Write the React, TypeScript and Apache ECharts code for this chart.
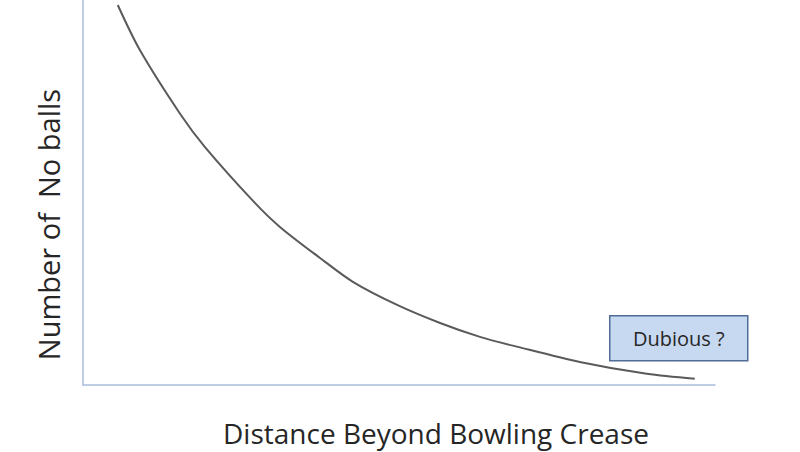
import * as echarts from "echarts";
import { useEffect, useRef } from "react";

// curve: x = distance (0–100), y = number of no balls (0–100)
const distance = [5.5, 9, 15.3, 19.3, 27.2, 31.2, 37.5, 42.7, 49.7, 56.5, 62.8, 68.8, 78.6, 89.2, 96.8];
const noBalls = [98.7, 87, 70.6, 61.8, 47.3, 41, 33, 26.8, 20.8, 16.1, 12.5, 9.9, 6, 2.9, 1.6];

const xTitle = "Distance Beyond Bowling Crease";
const yTitle = "Number of  No balls";
const noteText = "Dubious ?";

const axisColor = "#a9bddb";
const textColor = "#262626";
const fontFamily = "'Open Sans', sans-serif";

export default function App() {
  const ref = useRef<HTMLDivElement | null>(null);

  useEffect(() => {
    if (!ref.current) return;
    const chart = echarts.init(ref.current, null, { renderer: "svg", width: 800, height: 452 });
    chart.setOption({
      animation: false,
      grid: { left: 83, right: 85, top: 0, bottom: 67, outerBoundsMode: "none", containLabel: false },
      xAxis: {
        type: "value",
        min: 0,
        max: 100,
        name: xTitle,
        nameLocation: "middle",
        nameGap: 34,
        // title sits right of the axis centre in the original
        nameTextStyle: { color: textColor, fontSize: 28, fontFamily, padding: [0, 0, 0, 74] },
        axisLine: { lineStyle: { color: axisColor, width: 1.5 } },
        axisTick: { show: false },
        axisLabel: { show: false },
        splitLine: { show: false },
      },
      yAxis: {
        type: "value",
        min: 0,
        max: 100,
        name: yTitle,
        nameLocation: "middle",
        nameGap: 20,
        nameTextStyle: { color: textColor, fontSize: 29, fontFamily, padding: [0, 64, 0, 0] },
        axisLine: { show: true, lineStyle: { color: axisColor, width: 1.5 } },
        axisTick: { show: false },
        axisLabel: { show: false },
        splitLine: { show: false },
      },
      series: [
        {
          type: "line",
          data: distance.map((x, i) => [x, noBalls[i]]),
          smooth: 0.3,
          showSymbol: false,
          lineStyle: { color: "#5a5a5a", width: 2 },
        },
      ],
      graphic: [
        {
          type: "group",
          left: 609,
          top: 315,
          children: [
            {
              type: "rect",
              shape: { x: 0, y: 0, width: 138, height: 45 },
              style: { fill: "#c6d9f1", stroke: "#4f6d96", lineWidth: 1.5 },
            },
            {
              type: "text",
              x: 69,
              y: 22.5,
              style: {
                text: noteText,
                fill: textColor,
                fontSize: 20,
                fontFamily,
                align: "center",
                verticalAlign: "middle",
              },
            },
          ],
        },
      ],
    });
    return () => chart.dispose();
  }, []);

  return <div ref={ref} style={{ position: "absolute", left: 0, top: 0, width: 800, height: 452, background: "#fff" }} />;
}
